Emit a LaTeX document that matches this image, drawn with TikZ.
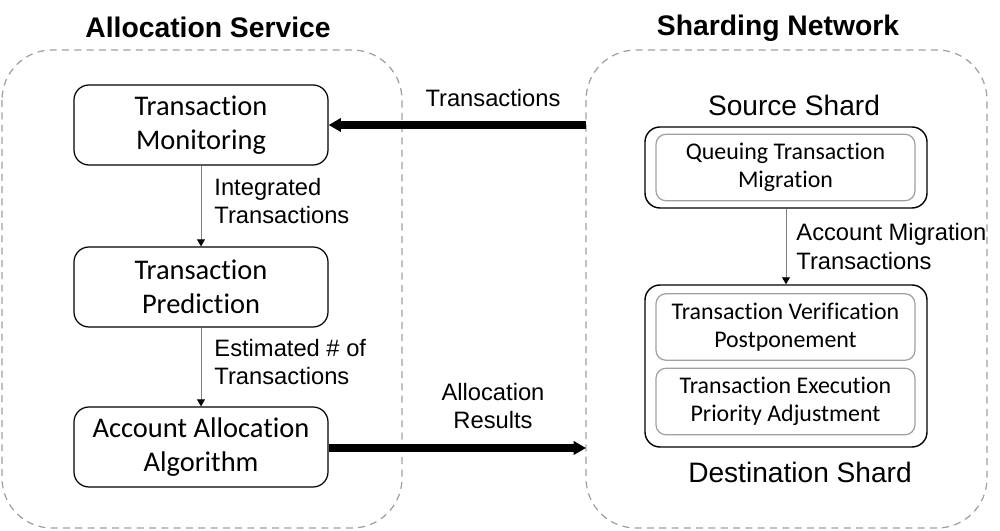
\documentclass[tikz,border=0pt]{standalone}
\usepackage{fontspec}
\setmainfont{Carlito}[Ligatures={NoCommon,NoContextual,NoRare}]
\newfontfamily\arialfont{Liberation Sans}
\usetikzlibrary{arrows.meta}

\definecolor{dashgray}{HTML}{A0A0A0}
\definecolor{linegray}{HTML}{7F7F7F}

\tikzset{
  blk/.style={draw, rounded corners=0.3cm, line width=0.7pt, align=center,
    inner sep=0pt, minimum width=5.08cm, minimum height=1.6cm,
    font=\fontsize{16.2}{19}\selectfont},
  shardbox/.style={draw, rounded corners=0.3cm, line width=0.8pt,
    inner sep=0pt, minimum width=5.64cm},
  subblk/.style={draw=dashgray, rounded corners=0.2cm, line width=0.7pt,
    align=center, inner sep=0pt, minimum width=5.18cm, minimum height=1.33cm,
    font=\fontsize{13.6}{16}\selectfont},
  lbl/.style={align=left, inner sep=0pt, font=\arialfont\fontsize{13.5}{16}\selectfont},
  ttl/.style={inner sep=0pt, font=\arialfont\bfseries\fontsize{16.1}{18}\selectfont},
  thin/.style={draw=linegray, line width=0.5pt, -{Triangle[length=4pt, width=4.5pt, color=black]}},
  thick/.style={line width=4pt, -{Triangle[length=7pt, width=7.5pt]}}
}

\begin{document}
\begin{tikzpicture}[x=0.2mm, y=-0.2mm]
  \useasboundingbox (0,0) rectangle (1000,531);

  % two containers
  \draw[dashgray, dashed, dash pattern=on 4pt off 3pt, line width=0.7pt, rounded corners=1cm]
    (2,50) rectangle (402,528);
  \draw[dashgray, dashed, dash pattern=on 4pt off 3pt, line width=0.7pt, rounded corners=1cm]
    (586,50) rectangle (987,528);
  \node[ttl] (allocTitle) at (208,27) {Allocation Service};
  \node[ttl] (shardTitle) at (778,28) {Sharding Network};

  % allocation service
  \node[blk] (monitor) at (201,125) {Transaction\\Monitoring};
  \node[blk] (predict) at (201,287) {Transaction\\Prediction};
  \node[blk] (algo) at (201,447) {Account Allocation\\Algorithm};
  \draw[thin] (monitor) -- node[lbl, anchor=west, xshift=0.26cm, yshift=0.1cm] {Integrated\\Transactions} (predict);
  \draw[thin] (predict) -- node[lbl, anchor=west, xshift=0.26cm, yshift=0.1cm] {Estimated \# of\\Transactions} (algo);

  % sharding network
  \node[inner sep=0pt, font=\arialfont\fontsize{16}{18}\selectfont] (srcTitle) at (794,105) {Source Shard};
  \node[shardbox, minimum height=1.62cm] (src) at (786,167.5) {};
  \node[subblk] (queue) at (785.5,167.5) {Queuing Transaction\\Migration};
  \node[shardbox, minimum height=3.24cm] (dst) at (786,366) {};
  \node[subblk] (verify) at (785.5,327) {Transaction Verification\\Postponement};
  \node[subblk] (exec) at (785.5,401.5) {Transaction Execution\\Priority Adjustment};
  \node[inner sep=0pt, font=\arialfont\fontsize{16}{18}\selectfont] (dstTitle) at (800,472) {Destination Shard};
  \draw[thin] (src) -- node[lbl, anchor=west, xshift=0.2cm] {Account Migration\\Transactions} (dst);

  % thick arrows between the two sides
  \coordinate (txIn) at (586,125);
  \coordinate (resOut) at (586,448);
  \draw[thick] (txIn) -- (monitor.east |- txIn);
  \draw[thick] (algo.east |- resOut) -- (resOut);
  \node[lbl, align=center] (txLbl) at (493,98) {Transactions};
  \node[lbl, align=center] (resLbl) at (493,406) {Allocation\\Results};
\end{tikzpicture}
\end{document}
